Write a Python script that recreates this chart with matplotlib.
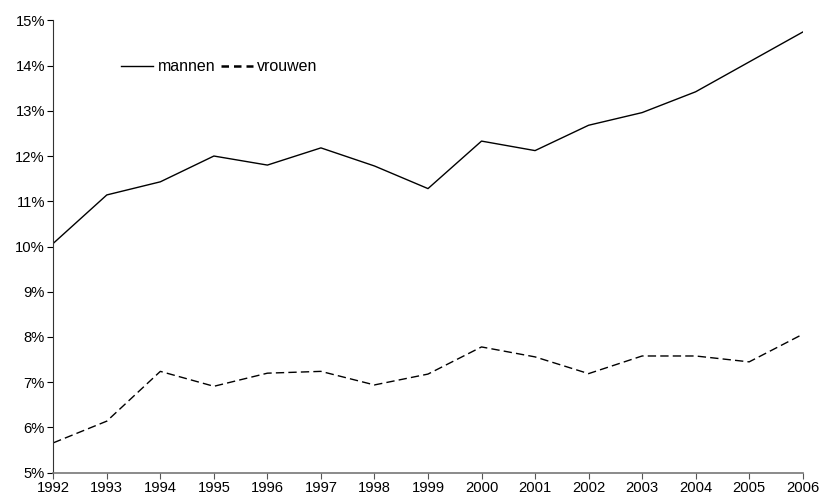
import numpy as np
import matplotlib.pyplot as plt
from matplotlib.ticker import FuncFormatter

plt.rcParams['font.family'] = ['Liberation Sans', 'DejaVu Sans']

jaren = list(range(1992, 2007))
mannen = [10.07, 11.14, 11.43, 12.00, 11.80, 12.18, 11.78, 11.28,
          12.33, 12.12, 12.68, 12.96, 13.42, 14.08, 14.74]
vrouwen = [5.66, 6.14, 7.24, 6.91, 7.20, 7.24, 6.94, 7.18,
           7.78, 7.56, 7.19, 7.58, 7.58, 7.45, 8.06]

fig = plt.figure(figsize=(8.21, 4.99), dpi=100)
ax = fig.add_axes([0.0649, 0.0527, 0.9128, 0.9066])

ax.plot(jaren, mannen, color='black', lw=1.0, label='mannen')
ax.plot(jaren, vrouwen, color='black', lw=1.0, ls=(0, (6, 3)), label='vrouwen')

ax.set_xlim(1992, 2006)
ax.set_ylim(5, 15)
ax.set_xticks(jaren)
ax.set_yticks(range(5, 16))
ax.yaxis.set_major_formatter(FuncFormatter(lambda v, p: f"{int(v)}%"))

for s in ['top', 'right']:
    ax.spines[s].set_visible(False)
ax.spines['left'].set_color('#333333')
ax.spines['bottom'].set_color('#777777')
ax.spines['bottom'].set_linewidth(1.2)
ax.tick_params(axis='both', direction='out', length=4, labelsize=10.6, pad=2)
ax.tick_params(axis='x', color='#555555')

leg = ax.legend(loc='upper left', bbox_to_anchor=(0.0825, 0.928), ncol=2,
                frameon=False, fontsize=11.5, handlelength=2.0,
                handletextpad=0.3, columnspacing=0.3, borderaxespad=0)
leg.get_lines()[1].set_linewidth(1.8)
leg.get_lines()[1].set_linestyle((0, (3, 2)))

fig.savefig('out.png', dpi=100)
